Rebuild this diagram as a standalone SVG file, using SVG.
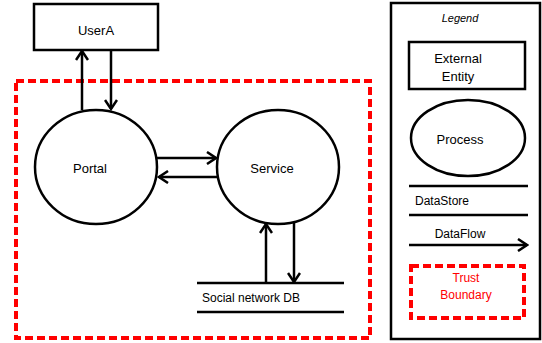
<svg xmlns="http://www.w3.org/2000/svg" width="542" height="343" viewBox="0 0 542 343">
<defs>
<marker id="arr" markerWidth="12" markerHeight="14" refX="10" refY="7" orient="auto" markerUnits="userSpaceOnUse">
<path d="M1,1 L10,7 L1,13" fill="none" stroke="#000" stroke-width="2.5"/>
</marker>
</defs>
<style>
.shape{fill:#fff;stroke:#000;stroke-width:2.5}
.line{fill:none;stroke:#000;stroke-width:2.5}
.flow{fill:none;stroke:#000;stroke-width:2.5;marker-end:url(#arr)}
.tb{fill:none;stroke:#ff0000;stroke-width:4;stroke-dasharray:8 4}
text{font-family:"Liberation Sans",Arial,sans-serif;font-size:13px;fill:#000;text-anchor:middle}
.small{font-size:12px}
.red{fill:#ff0000}
</style>
<rect width="542" height="343" fill="#fff"/>
<g id="trust-boundary"><rect class="tb" x="16" y="81" width="354" height="257"/></g>
<g id="connectors">
<line class="flow" x1="82" y1="110" x2="82" y2="51"/>
<line class="flow" x1="111" y1="50" x2="111" y2="109"/>
<line class="flow" x1="157" y1="158" x2="216" y2="158"/>
<line class="flow" x1="218" y1="177" x2="159" y2="177"/>
<line class="flow" x1="266" y1="283" x2="266" y2="224"/>
<line class="flow" x1="294" y1="222" x2="294" y2="282"/>
</g>
<g id="userA"><rect class="shape" x="34" y="4" width="124" height="46"/><text x="96" y="35">UserA</text></g>
<g id="portal"><ellipse class="shape" cx="96" cy="167" rx="61" ry="57"/><text x="90" y="173">Portal</text></g>
<g id="service"><ellipse class="shape" cx="278" cy="167" rx="61" ry="57"/><text x="272" y="173">Service</text></g>
<g id="social-db"><line class="line" x1="197" y1="283" x2="344" y2="283"/><line class="line" x1="197" y1="312" x2="344" y2="312"/><text class="small" x="202" y="302" style="text-anchor:start">Social network DB</text></g>
<g id="legend">
<rect class="shape" x="391" y="3" width="149" height="336"/>
<text class="small" x="460" y="22" style="font-style:italic;font-size:11px">Legend</text>
<rect class="shape" x="409" y="42" width="116" height="47"/>
<text x="458" y="63">External</text><text x="458" y="81">Entity</text>
<ellipse class="shape" cx="468" cy="138" rx="57" ry="38"/>
<text x="460" y="144">Process</text>
<line class="line" x1="409" y1="186" x2="528" y2="186"/>
<line class="line" x1="409" y1="215" x2="528" y2="215"/>
<text class="small" x="415" y="205" style="text-anchor:start">DataStore</text>
<line class="flow" x1="409" y1="245" x2="527" y2="245"/>
<text class="small" x="460" y="238">DataFlow</text>
<rect class="tb" x="411" y="266" width="113" height="52"/>
<text class="small red" x="466" y="282">Trust</text>
<text class="small red" x="466" y="299">Boundary</text>
</g>
</svg>
